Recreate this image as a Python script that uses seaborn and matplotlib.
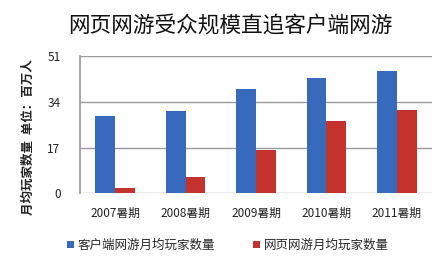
import matplotlib
matplotlib.use("Agg")
import matplotlib.pyplot as plt
import seaborn as sns
import pandas as pd

categories = ["2007暑期", "2008暑期", "2009暑期", "2010暑期", "2011暑期"]
client_vals = [28.7, 30.7, 38.9, 42.9, 45.4]
web_vals = [1.9, 6.2, 16.1, 26.8, 31.0]
series_names = ["客户端网游月均玩家数量", "网页网游月均玩家数量"]
yticks = [0, 17, 34, 51]

sns.set_theme(style="white")
plt.rcParams['font.family'] = ['Noto Sans CJK SC', 'DejaVu Sans']

df = pd.DataFrame({
    "cat": categories * 2,
    "val": client_vals + web_vals,
    "series": [series_names[0]] * 5 + [series_names[1]] * 5,
})

fig = plt.figure(figsize=(4.44, 2.64), dpi=100)
ax = fig.add_axes([80 / 444, 1 - 193.3 / 264, 352 / 444, 137.3 / 264])

sns.barplot(data=df, x="cat", y="val", hue="series", ax=ax,
            palette=["#3769BC", "#C4322E"], width=0.56, saturation=1,
            edgecolor="none", legend=True)

ax.set_ylim(0, 51)
ax.set_yticks(yticks)
ax.set_yticklabels([str(t) for t in yticks], fontsize=8.5, color="#222222")
ax.yaxis.grid(True, color="#9a9a9a", linewidth=1)
ax.set_axisbelow(True)
ax.tick_params(axis="y", length=0, pad=14)
ax.tick_params(axis="x", length=0, pad=10, labelsize=8.5, labelcolor="#222222")
ax.set_xlabel("")
ax.set_ylabel("月均玩家数量  单位：百万人", fontsize=9, fontweight="bold",
              color="#222222")
ax.yaxis.set_label_coords(-0.128, 0.41)
for s in ["top", "right", "bottom"]:
    ax.spines[s].set_visible(False)
ax.spines["left"].set_color("#9a9a9a")

leg = ax.legend(loc="upper center", bbox_to_anchor=(0.42, -0.25), ncol=2,
                frameon=False, fontsize=9, handlelength=0.6, handleheight=0.6,
                columnspacing=3.0, handletextpad=0.3)

fig.text(0.518, 0.905, "网页网游受众规模直追客户端网游", ha="center", va="center",
         fontsize=15.6, color="#111111")

fig.savefig("out.png", dpi=100, facecolor="white")
